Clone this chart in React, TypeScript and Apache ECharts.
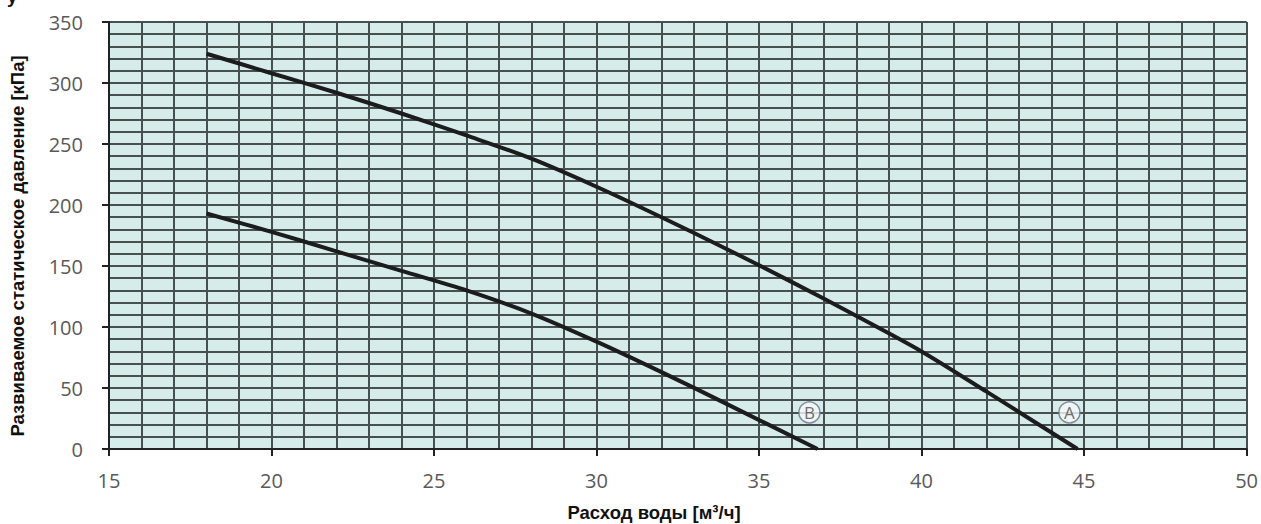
import React, { useEffect, useRef } from "react";
import * as echarts from "echarts";

const curveA: [number, number][] = [
  [18, 324], [20, 308], [22, 292], [24, 275], [26, 257], [28, 238], [30, 215],
  [32, 190], [34, 164], [36, 137], [38, 109], [40, 80], [42, 47], [44.8, 0],
];
const curveB: [number, number][] = [
  [18, 193], [20, 178], [22, 162], [24, 146], [26, 130], [28, 111], [30, 88],
  [32, 63], [34, 37], [36.8, 0],
];
const markers: { name: string; value: [number, number] }[] = [
  { name: "A", value: [44.55, 30] },
  { name: "B", value: [36.55, 30] },
];
const xTitle = "Расход воды [м³/ч]";
const yTitle = "Развиваемое статическое давление [кПа]";

const gridStyle = { color: "#46514f", width: 2 };
const titleFont = "bold 18.5px 'Liberation Sans', Arial";

export default function App() {
  const ref = useRef<HTMLDivElement>(null);
  useEffect(() => {
    if (!ref.current) return;
    const chart = echarts.init(ref.current, null, { renderer: "svg" });
    chart.setOption({
      animation: false,
      backgroundColor: "#ffffff",
      grid: {
        left: 109, right: 14, top: 22, bottom: 75,
        show: true, backgroundColor: "#d5ecea", borderColor: "#8a9494", borderWidth: 1,
      },
      xAxis: {
        type: "value", min: 15, max: 50, interval: 5,
        axisLine: { show: true, lineStyle: { color: "#222", width: 2 } },
        axisTick: { show: true, length: 7, lineStyle: { color: "#222", width: 2 } },
        axisLabel: { color: "#595959", fontSize: 20, fontFamily: "Open Sans", margin: 21 },
        splitLine: { show: true, lineStyle: gridStyle },
        minorTick: { show: false, splitNumber: 5 },
        minorSplitLine: { show: true, lineStyle: gridStyle },
      },
      yAxis: {
        type: "value", min: 0, max: 350, interval: 50,
        axisLine: { show: true, lineStyle: { color: "#222", width: 2 } },
        axisTick: { show: true, length: 7, lineStyle: { color: "#222", width: 2 } },
        axisLabel: { color: "#595959", fontSize: 20, fontFamily: "Open Sans", margin: 26 },
        splitLine: { show: true, lineStyle: gridStyle },
        minorTick: { show: false, splitNumber: 5 },
        minorSplitLine: { show: true, lineStyle: gridStyle },
      },
      graphic: [
        {
          type: "text", x: 654, y: 512,
          style: {
            text: xTitle, font: titleFont, fill: "#111",
            align: "center", verticalAlign: "middle",
          },
        },
        {
          type: "text", x: 17, y: 246, rotation: Math.PI / 2,
          style: {
            text: yTitle, font: titleFont, fill: "#111",
            align: "center", verticalAlign: "middle",
          },
        },
        {
          type: "text", x: 7, y: -13,
          style: { text: "у", font: titleFont, fill: "#111" },
        },
      ],
      series: [
        {
          type: "line", data: curveA, smooth: 0.3, showSymbol: false,
          lineStyle: { color: "#1c1c1c", width: 4 },
        },
        {
          type: "line", data: curveB, smooth: 0.3, showSymbol: false,
          lineStyle: { color: "#1c1c1c", width: 4 },
        },
        {
          type: "scatter", data: markers, symbol: "circle", symbolSize: 21,
          itemStyle: { color: "#f6f8f8", borderColor: "#66758a", borderWidth: 1.5 },
          label: {
            show: true, position: "inside", formatter: "{b}",
            color: "#4a4a4a", fontSize: 17, fontFamily: "Open Sans",
          },
        },
      ],
    });
    return () => chart.dispose();
  }, []);
  return (
    <div
      ref={ref}
      style={{ position: "absolute", left: 0, top: 0, width: 1261, height: 524 }}
    />
  );
}
